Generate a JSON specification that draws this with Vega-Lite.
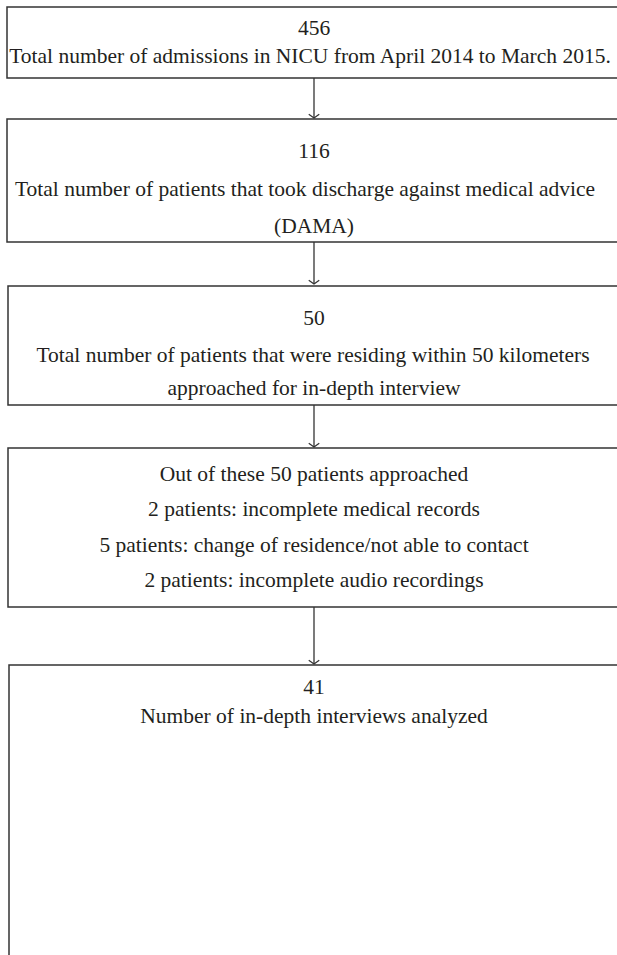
{
  "$schema": "https://vega.github.io/schema/vega-lite/v6.json",
  "width": 617,
  "height": 955,
  "autosize": {"type": "fit", "contains": "padding"},
  "padding": 0,
  "background": "white",
  "config": {"view": {"stroke": null}},
  "datasets": {
    "boxes": [
      {"box": 1, "left": 7, "right": 640, "top": 7, "bottom": 78},
      {"box": 2, "left": 7, "right": 640, "top": 119, "bottom": 242},
      {"box": 3, "left": 8, "right": 640, "top": 286, "bottom": 405},
      {"box": 4, "left": 8, "right": 640, "top": 448, "bottom": 607},
      {"box": 5, "left": 9, "right": 640, "top": 665, "bottom": 1000}
    ],
    "arrows": [
      {"x": 314, "from": 78, "to": 118},
      {"x": 314, "from": 242, "to": 284},
      {"x": 314, "from": 405, "to": 447},
      {"x": 314, "from": 607, "to": 664}
    ],
    "labels": [
      {"x": 314, "y": 29, "text": "456"},
      {"x": 310, "y": 57, "text": "Total number of admissions in NICU from April 2014 to March 2015."},
      {"x": 314, "y": 152, "text": "116"},
      {"x": 305, "y": 190, "text": "Total number of patients that took discharge against medical advice"},
      {"x": 314, "y": 227, "text": "(DAMA)"},
      {"x": 314, "y": 319, "text": "50"},
      {"x": 313, "y": 356, "text": "Total number of patients that were residing within 50 kilometers"},
      {"x": 314, "y": 389, "text": "approached for in-depth interview"},
      {"x": 314, "y": 475, "text": "Out of these 50 patients approached"},
      {"x": 314, "y": 510, "text": "2 patients: incomplete medical records"},
      {"x": 314, "y": 546, "text": "5 patients: change of residence/not able to contact"},
      {"x": 314, "y": 581, "text": "2 patients: incomplete audio recordings"},
      {"x": 314, "y": 688, "text": "41"},
      {"x": 314, "y": 717, "text": "Number of in-depth interviews analyzed"}
    ]
  },
  "layer": [
    {
      "data": {"name": "boxes"},
      "mark": {"type": "rect", "fill": null, "fillOpacity": 0, "stroke": "#333333", "strokeWidth": 1.5, "clip": true},
      "encoding": {
        "x": {"field": "left", "type": "quantitative", "scale": {"domain": [0, 617], "nice": false, "zero": false}, "axis": null},
        "x2": {"field": "right"},
        "y": {"field": "top", "type": "quantitative", "scale": {"domain": [0, 955], "nice": false, "zero": false, "reverse": true}, "axis": null},
        "y2": {"field": "bottom"}
      }
    },
    {
      "data": {"name": "arrows"},
      "mark": {"type": "rule", "stroke": "#333333", "strokeWidth": 1.3},
      "encoding": {
        "x": {"field": "x", "type": "quantitative"},
        "y": {"field": "from", "type": "quantitative"},
        "y2": {"field": "to"}
      }
    },
    {
      "data": {"name": "arrows"},
      "mark": {"type": "point", "shape": "M-1,-0.7L0,0L1,-0.7", "filled": false, "stroke": "#333333", "strokeWidth": 1.3, "size": 110, "opacity": 1},
      "encoding": {
        "x": {"field": "x", "type": "quantitative"},
        "y": {"field": "to", "type": "quantitative"}
      }
    },
    {
      "data": {"name": "labels"},
      "mark": {"type": "text", "font": "Liberation Serif", "fontSize": 21.5, "color": "#231f20", "align": "center", "baseline": "middle"},
      "encoding": {
        "x": {"field": "x", "type": "quantitative"},
        "y": {"field": "y", "type": "quantitative"},
        "text": {"field": "text"}
      }
    }
  ]
}
